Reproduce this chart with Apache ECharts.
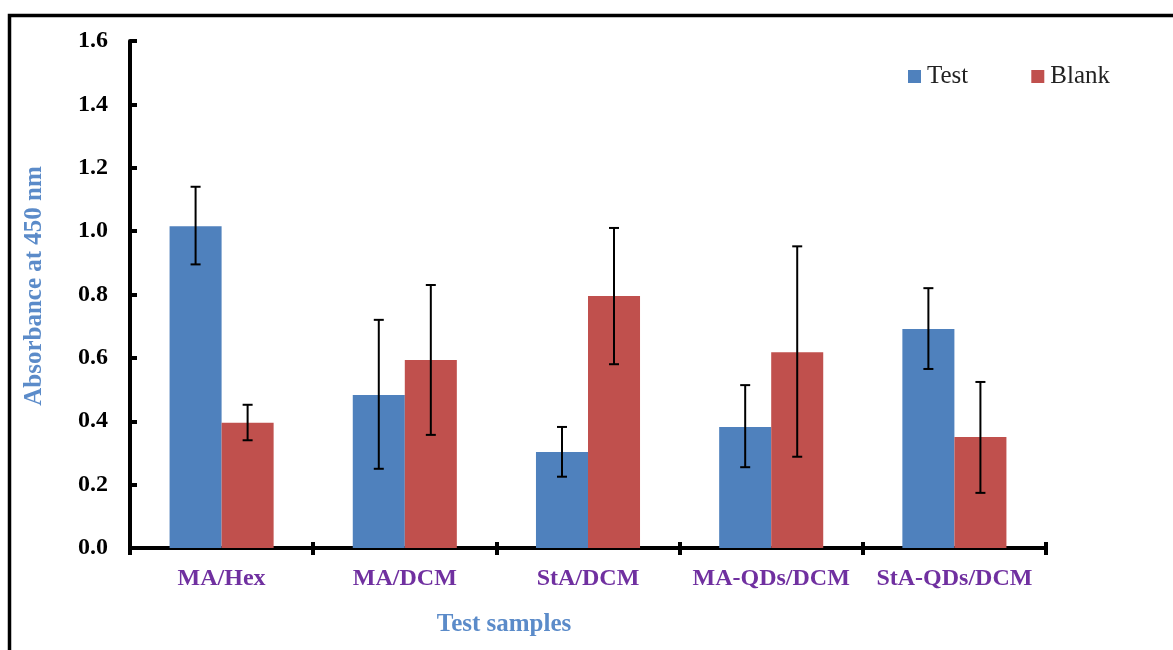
<!DOCTYPE html>
<html>
<head>
<meta charset="utf-8">
<script src="https://cdn.jsdelivr.net/npm/echarts@6/dist/echarts.min.js"></script>
<style>html,body{margin:0;padding:0;background:#fff}#c{width:1173px;height:650px}</style>
</head>
<body>
<div id="c"></div>
<script>
const categories = ['MA/Hex', 'MA/DCM', 'StA/DCM', 'MA-QDs/DCM', 'StA-QDs/DCM'];
const testValues = [1.015, 0.483, 0.303, 0.382, 0.691];
const testLow = [0.895, 0.250, 0.225, 0.255, 0.565];
const testHigh = [1.140, 0.720, 0.382, 0.514, 0.820];
const blankValues = [0.395, 0.593, 0.795, 0.618, 0.350];
const blankLow = [0.340, 0.357, 0.580, 0.288, 0.174];
const blankHigh = [0.452, 0.830, 1.010, 0.952, 0.524];
const yTicks = [0, 0.2, 0.4, 0.6, 0.8, 1.0, 1.2, 1.4, 1.6];

const BLUE = '#4F81BD', RED = '#C0504D';
const FONT = '"Liberation Serif", "Times New Roman", serif';
const GAP = 0.432;

function errSeries(name, low, high, side) {
  return {
    type: 'custom', name: name + ' err', silent: true, z: 10,
    data: categories.map((c, i) => [i, low[i], high[i]]),
    renderItem: function (params, api) {
      const band = api.size([1, 0])[0];
      const barW = band * (1 - GAP) / 2;
      const xc = api.coord([api.value(0), 0])[0] + side * barW / 2;
      const yl = api.coord([api.value(0), api.value(1)])[1];
      const yh = api.coord([api.value(0), api.value(2)])[1];
      const cap = 5;
      const st = { stroke: '#000', lineWidth: 2 };
      return {
        type: 'group', children: [
          { type: 'line', shape: { x1: xc, y1: yl, x2: xc, y2: yh }, style: st },
          { type: 'line', shape: { x1: xc - cap, y1: yl, x2: xc + cap, y2: yl }, style: st },
          { type: 'line', shape: { x1: xc - cap, y1: yh, x2: xc + cap, y2: yh }, style: st }
        ]
      };
    }
  };
}

const chart = echarts.init(document.getElementById('c'), null, { renderer: 'canvas' });
chart.setOption({
  animation: false,
  backgroundColor: '#fff',
  grid: { left: 130, right: 127, top: 41, bottom: 102, containLabel: false },
  legend: {
    data: ['Test', 'Blank'],
    left: 903, top: 59,
    itemWidth: 13, itemHeight: 13, itemGap: 63,
    icon: 'rect',
    textStyle: { fontFamily: FONT, fontSize: 25, color: '#222', padding: [0, 0, 0, 1] }
  },
  graphic: [
    { type: 'rect', shape: { x: 9.5, y: 15.5, width: 1300, height: 800 },
      style: { fill: 'none', stroke: '#000', lineWidth: 3.5 }, z: 100 },
    { type: 'text', x: 504, y: 625, z: 100,
      style: { text: 'Test samples', fontFamily: FONT, fontSize: 25, fontWeight: 'bold',
               fill: '#5B8BC9', align: 'center', verticalAlign: 'middle' } },
    { type: 'text', x: 35, y: 286, rotation: Math.PI / 2, z: 100,
      style: { text: 'Absorbance at 450 nm', fontFamily: FONT, fontSize: 25, fontWeight: 'bold',
               fill: '#5B8BC9', align: 'center', verticalAlign: 'middle' } }
  ],
  xAxis: [{
    type: 'category', data: categories, position: 'bottom',
    axisLine: { lineStyle: { color: '#000', width: 4 } },
    axisTick: { show: true, inside: false, length: 7, lineStyle: { color: '#000', width: 4 } },
    axisLabel: { margin: 19, fontFamily: FONT, fontSize: 24, fontWeight: 'bold', color: '#7030A0', interval: 0 },
    splitLine: { show: false }
  }, {
    type: 'category', data: categories, position: 'bottom', offset: 0,
    axisLine: { show: false },
    axisTick: { show: true, inside: true, length: 6, lineStyle: { color: '#000', width: 4 } },
    axisLabel: { show: false },
    splitLine: { show: false }
  }],
  yAxis: {
    type: 'value', min: yTicks[0], max: yTicks[yTicks.length - 1], interval: 0.2,
    axisLine: { show: true, lineStyle: { color: '#000', width: 4 } },
    axisTick: { show: true, inside: true, length: 7, lineStyle: { color: '#000', width: 4 } },
    axisLabel: { margin: 22, fontFamily: FONT, fontSize: 24, fontWeight: 'bold', color: '#000',
                 formatter: v => v.toFixed(1) },
    splitLine: { show: false }
  },
  series: [
    { name: 'Test', type: 'bar', data: testValues, barGap: 0, barCategoryGap: (GAP * 100) + '%',
      itemStyle: { color: BLUE } },
    { name: 'Blank', type: 'bar', data: blankValues, barGap: 0, barCategoryGap: (GAP * 100) + '%',
      itemStyle: { color: RED } },
    errSeries('Test', testLow, testHigh, -1),
    errSeries('Blank', blankLow, blankHigh, 1)
  ]
});
</script>
</body>
</html>
